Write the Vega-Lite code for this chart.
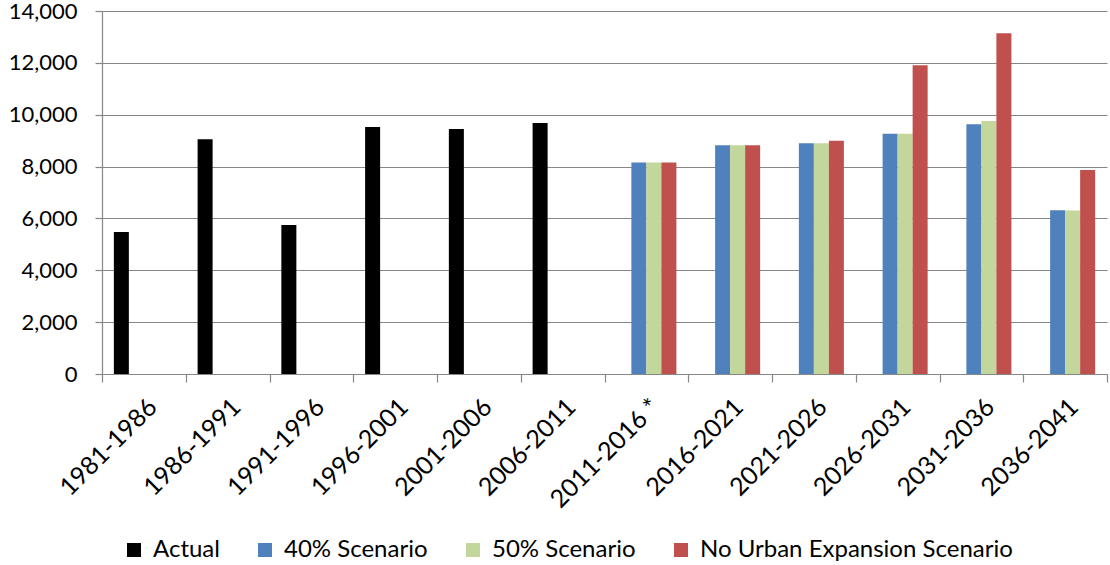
{
  "$schema": "https://vega.github.io/schema/vega-lite/v6.json",
  "autosize": {"type": "none"},
  "width": 1005,
  "height": 363,
  "padding": {"left": 102, "top": 11, "right": 3, "bottom": 191},
  "background": "white",
  "config": {
    "font": "Lato",
    "view": {"stroke": null},
    "axis": {"labelFont": "Lato", "labelFontSize": 22, "labelColor": "#000000", "domainColor": "#868686", "tickColor": "#868686", "gridColor": "#868686", "domainWidth": 1.2, "tickWidth": 1.2, "gridWidth": 1.2}
  },
  "data": {
    "values": [
      {"period": "1981-1986", "series": "Actual", "value": 5480},
      {"period": "1986-1991", "series": "Actual", "value": 9050},
      {"period": "1991-1996", "series": "Actual", "value": 5745},
      {"period": "1996-2001", "series": "Actual", "value": 9525},
      {"period": "2001-2006", "series": "Actual", "value": 9450},
      {"period": "2006-2011", "series": "Actual", "value": 9685},
      {"period": "2011-2016 *", "series": "40% Scenario", "value": 8160},
      {"period": "2011-2016 *", "series": "50% Scenario", "value": 8160},
      {"period": "2011-2016 *", "series": "No Urban Expansion Scenario", "value": 8160},
      {"period": "2016-2021", "series": "40% Scenario", "value": 8820},
      {"period": "2016-2021", "series": "50% Scenario", "value": 8820},
      {"period": "2016-2021", "series": "No Urban Expansion Scenario", "value": 8820},
      {"period": "2021-2026", "series": "40% Scenario", "value": 8895},
      {"period": "2021-2026", "series": "50% Scenario", "value": 8895},
      {"period": "2021-2026", "series": "No Urban Expansion Scenario", "value": 9000},
      {"period": "2026-2031", "series": "40% Scenario", "value": 9270},
      {"period": "2026-2031", "series": "50% Scenario", "value": 9270},
      {"period": "2026-2031", "series": "No Urban Expansion Scenario", "value": 11910},
      {"period": "2031-2036", "series": "40% Scenario", "value": 9630},
      {"period": "2031-2036", "series": "50% Scenario", "value": 9760},
      {"period": "2031-2036", "series": "No Urban Expansion Scenario", "value": 13140},
      {"period": "2036-2041", "series": "40% Scenario", "value": 6320},
      {"period": "2036-2041", "series": "50% Scenario", "value": 6310},
      {"period": "2036-2041", "series": "No Urban Expansion Scenario", "value": 7865}
    ]
  },
  "mark": {"type": "bar"},
  "encoding": {
    "x": {
      "field": "period",
      "type": "nominal",
      "sort": null,
      "scale": {"paddingInner": 0, "paddingOuter": 0},
      "axis": {"title": null, "labelAngle": -45, "labelFontSize": 25, "tickBand": "extent", "tickSize": 8, "labelPadding": 12, "labelOffset": 0, "grid": false, "labelLimit": 0}
    },
    "xOffset": {
      "field": "series",
      "type": "nominal",
      "scale": {"domain": ["Actual", "40% Scenario", "50% Scenario", "No Urban Expansion Scenario"], "paddingInner": 0, "paddingOuter": 0.79}
    },
    "y": {
      "field": "value",
      "type": "quantitative",
      "scale": {"domain": [0, 14000], "nice": false},
      "axis": {"title": null, "values": [0, 2000, 4000, 6000, 8000, 10000, 12000, 14000], "format": ",d", "tickSize": 7, "labelPadding": 18, "grid": true}
    },
    "color": {
      "field": "series",
      "type": "nominal",
      "scale": {"domain": ["Actual", "40% Scenario", "50% Scenario", "No Urban Expansion Scenario"], "range": ["#000000", "#4F81BD", "#C3D69B", "#C0504D"]},
      "legend": {"title": null, "orient": "none", "direction": "horizontal", "legendX": 20, "legendY": 527, "padding": 0, "symbolType": "square", "symbolSize": 196, "symbolStrokeWidth": 0, "labelFont": "Lato", "labelFontSize": 24, "labelColor": "#000000", "labelOffset": 7, "labelLimit": 0, "columnPadding": 33, "symbolOpacity": 1}
    }
  }
}
